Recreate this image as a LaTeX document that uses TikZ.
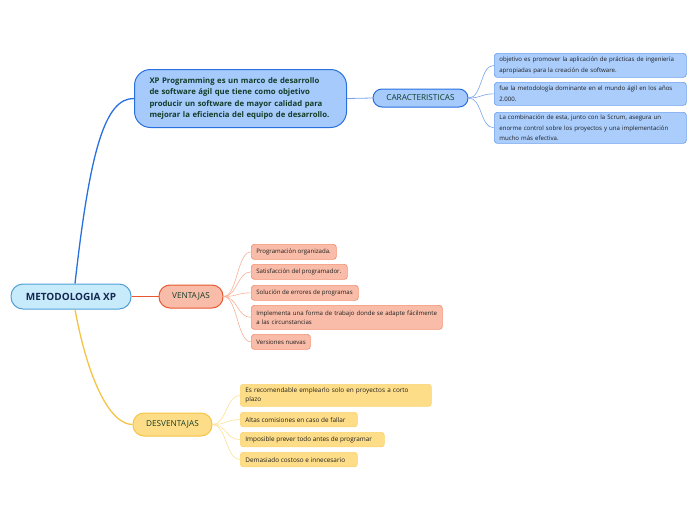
\documentclass[tikz,border=0pt]{standalone}
\usepackage{fontspec}
\setmainfont{Open Sans}
\definecolor{rootF}{RGB}{200,235,252}
\definecolor{rootB}{RGB}{80,160,215}
\definecolor{rootT}{RGB}{20,40,80}
\definecolor{blueF}{RGB}{166,202,251}
\definecolor{blueB}{RGB}{40,112,222}
\definecolor{blueL}{RGB}{120,165,235}
\definecolor{blueLF}{RGB}{170,205,252}
\definecolor{blueLB}{RGB}{110,160,240}
\definecolor{greenT}{RGB}{18,60,40}
\definecolor{oraF}{RGB}{248,188,168}
\definecolor{oraB}{RGB}{232,88,48}
\definecolor{oraLB}{RGB}{245,145,115}
\definecolor{oraL}{RGB}{248,175,150}
\definecolor{yelF}{RGB}{254,221,136}
\definecolor{yelB}{RGB}{245,195,70}
\definecolor{yelLB}{RGB}{250,212,110}
\definecolor{yelL}{RGB}{252,225,150}
\definecolor{leafT}{RGB}{30,30,30}
\begin{document}
\begin{tikzpicture}[x=1pt,y=-1pt,
  rootbox/.style={draw=rootB,fill=rootF,line width=1pt,rounded corners=12pt,
    font=\fontsize{10}{12}\selectfont\bfseries,text=rootT,minimum width=120pt,
    minimum height=25pt,inner sep=0pt},
  topbox/.style={draw=blueB,fill=blueF,line width=1pt,rounded corners=16pt,
    font=\fontsize{7.75}{11.5}\selectfont\bfseries,text=greenT,align=left,
    anchor=north west,inner xsep=15pt,inner ysep=0pt,text width=182pt,minimum height=58pt},
  pill/.style={line width=1pt,rounded corners=9pt,inner sep=0pt,
    font=\fontsize{8.2}{10}\selectfont,text=greenT},
  leaf/.style={anchor=north west,rounded corners=3pt,line width=0.7pt,inner xsep=5pt,
    inner ysep=0pt,align=left,text=leafT},
  bleaf/.style={leaf,draw=blueLB,fill=blueLF,font=\fontsize{6.1}{10.5}\selectfont,text width=182pt},
  oleaf/.style={leaf,draw=oraLB,fill=oraF,font=\fontsize{6.1}{9}\selectfont,minimum height=15pt},
  yleaf/.style={leaf,draw=yelLB,fill=yelF,font=\fontsize{6.4}{9}\selectfont,minimum height=14.5pt},
  blink/.style={draw=blueL,line width=0.6pt},
  olink/.style={draw=oraL,line width=0.6pt},
  ylink/.style={draw=yelL,line width=0.6pt}
]
\useasboundingbox (0,0) rectangle (696,520);

% main nodes
\node[rootbox] (root) at (71,296.5) {METODOLOGIA XP};
\node[topbox] (top) at (134,69) {XP Programming es un marco de desarrollo\\de software ágil que tiene como objetivo\\producir un software de mayor calidad para\\mejorar la eficiencia del equipo de desarrollo.};
\node[pill,draw=blueB,fill=blueF,minimum width=95pt,minimum height=18pt] (car) at (420.5,98) {CARACTERISTICAS};
\node[pill,draw=oraB,fill=oraF,minimum width=64pt,minimum height=23pt,rounded corners=11pt] (ven) at (191,296.5) {VENTAJAS};
\node[pill,draw=yelB,fill=yelF,minimum width=79pt,minimum height=23pt,rounded corners=11pt] (des) at (172.5,424.5) {DESVENTAJAS};

% caracteristicas leaves
\node[bleaf,minimum height=24pt] (c1) at (494,53) {objetivo es promover la aplicación de prácticas de ingeniería\\apropiadas para la creación de software.};
\node[bleaf,minimum height=23pt] (c2) at (494,82) {fue la metodología dominante en el mundo ágil en los años\\2.000.};
\node[bleaf,minimum height=31pt] (c3) at (494,112) {La combinación de esta, junto con la Scrum, asegura un\\enorme control sobre los proyectos y una implementación\\mucho más efectiva.};

% ventajas leaves
\node[oleaf] (v1) at (251,244) {\makebox[75pt][l]{Programación organizada.}};
\node[oleaf] (v2) at (251,264) {\makebox[86pt][l]{Satisfacción del programador.}};
\node[oleaf] (v3) at (251,285) {\makebox[97pt][l]{Solución de errores de programas}};
\node[oleaf,minimum height=24pt,text width=181pt] (v4) at (251,305) {Implementa una forma de trabajo donde  se adapte fácilmente\\a las circunstancias};
\node[oleaf] (v5) at (251,334) {\makebox[49pt][l]{Versiones nuevas}};

% desventajas leaves
\node[yleaf,minimum height=22pt,text width=181pt] (d1) at (240,384) {Es recomendable emplearlo solo en proyectos a corto\\plazo};
\node[yleaf] (d2) at (240,412) {\makebox[107pt][l]{Altas comisiones en caso de fallar}};
\node[yleaf] (d3) at (240,432) {\makebox[134pt][l]{Imposible prever todo antes de programar}};
\node[yleaf] (d4) at (240,452) {\makebox[107pt][l]{Demasiado costoso e innecesario}};

% main connectors
\draw[draw=blueB,line width=1.3pt] ([xshift=4pt]root.north) .. controls (90,150) and (105,98) .. (top.west);
\draw[draw=oraB,line width=1.3pt] (root.east) -- (ven.west);
\draw[draw=yelB,line width=1.3pt] ([xshift=4pt]root.south) .. controls (88,380) and (110,424.5) .. (des.west);
\draw[blink,line width=0.8pt] (top.east) -- (car.west);

% leaf connectors
\foreach \n in {c1,c2,c3}
  \draw[blink] (car.east) .. controls +(14,0) and +(-14,0) .. (\n.west);
\foreach \n in {v1,v2,v3,v4,v5}
  \draw[olink] (ven.east) .. controls +(14,0) and +(-14,0) .. (\n.west);
\foreach \n in {d1,d2,d3,d4}
  \draw[ylink] (des.east) .. controls +(14,0) and +(-14,0) .. (\n.west);
\end{tikzpicture}
\end{document}
